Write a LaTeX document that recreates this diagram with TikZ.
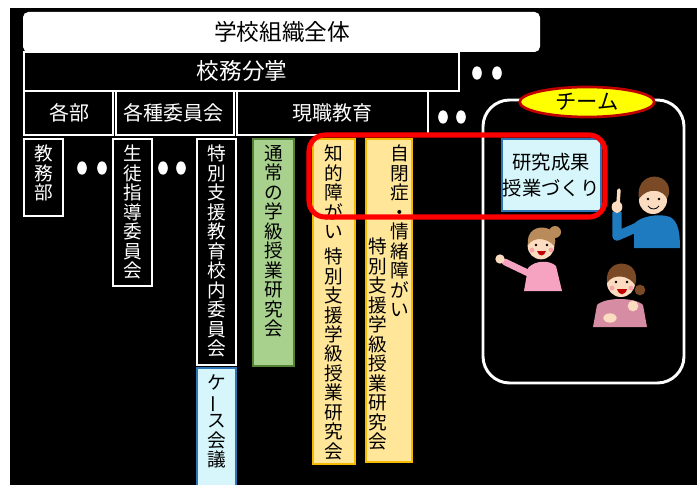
\documentclass[tikz,border=0pt]{standalone}
\usepackage{fontspec}
\newfontfamily\jpfont{Noto Sans CJK JP}
\usetikzlibrary{shapes.geometric}

\definecolor{gakkyugreen}{HTML}{A9D18E}
\definecolor{gakkyuedge}{HTML}{548235}
\definecolor{tokushiorange}{HTML}{FFE699}
\definecolor{tokushiedge}{HTML}{F5BA00}
\definecolor{casecyan}{HTML}{D6F6FB}
\definecolor{caseedge}{HTML}{2E75B6}
\definecolor{teamred}{HTML}{FF0000}
\definecolor{teamyellow}{HTML}{FFFF00}
\definecolor{teamedge}{HTML}{C00000}
\definecolor{skin}{HTML}{FCDCC0}
\definecolor{cheek}{HTML}{F6A6A6}
\definecolor{hairbrown}{HTML}{7A4A26}
\definecolor{hairlight}{HTML}{B98A5A}
\definecolor{shirtblue}{HTML}{1F7BC0}
\definecolor{shirtpink}{HTML}{F5A3C0}
\definecolor{shirtmauve}{HTML}{D68CA2}

\tikzset{
  frame/.style={draw=white, line width=1.6pt},
  yoko/.style={font=\jpfont\fontsize{15}{19}\selectfont, inner sep=0pt},
  bigyoko/.style={font=\jpfont\fontsize{17}{20}\selectfont, inner sep=0pt},
  tate/.style={font=\jpfont\fontsize{14}{14.6}\selectfont, align=center, inner sep=0pt, anchor=north},
  greenbox/.style={fill=gakkyugreen, draw=gakkyuedge, line width=1.6pt},
  orangebox/.style={fill=tokushiorange, draw=tokushiedge, line width=1.8pt},
  cyanbox/.style={fill=casecyan, draw=caseedge, line width=1.8pt},
}

\begin{document}
\begin{tikzpicture}[x=0.75pt, y=-0.75pt]
    \useasboundingbox (0,0) rectangle (697,485);
    \fill[white] (0,0) rectangle (697,485);
    \fill[black] (10,8) rectangle (697,485);

    % whole school and its branches
    \fill[white, rounded corners=4pt] (23,12) rectangle (540,52);
    \node[bigyoko] (zentai) at (282,32) {学校組織全体};

    \draw[frame] (24,52) rectangle (459,91);
    \node[bigyoko, text=white] (bunsho) at (242,71) {校務分掌};
    \fill[white] (477,73) ellipse (3.6pt and 5pt);
    \fill[white] (497,73) ellipse (3.6pt and 5pt);

    \draw[frame] (24,91) rectangle (113,135);
    \node[yoko, text=white] (kakubu) at (69,113) {各部};
    \draw[frame] (116,91) rectangle (234,135);
    \node[yoko, text=white] (iinkai) at (173,113) {各種委員会};
    \draw[frame] (237,91) rectangle (428,135);
    \node[yoko, text=white] (genshoku) at (332,113) {現職教育};
    \fill[white] (443,117) ellipse (3.6pt and 5pt);
    \fill[white] (461,117) ellipse (3.6pt and 5pt);

    % columns under each branch
    \draw[frame] (24,139) rectangle (63,216);
    \node[tate, text=white] (kyomu) at (43.5,145) {教\\務\\部};
    \fill[white] (82,168) ellipse (3.6pt and 5pt);
    \fill[white] (102,168) ellipse (3.6pt and 5pt);

    \draw[frame] (113,139) rectangle (152,286);
    \node[tate, text=white] (seito) at (132.5,145) {生\\徒\\指\\導\\委\\員\\会};
    \fill[white] (163,168) ellipse (3.6pt and 5pt);
    \fill[white] (181,168) ellipse (3.6pt and 5pt);

    \draw[frame] (197,139) rectangle (236,365);
    \node[tate, text=white] (kounai) at (216.5,145) {特\\別\\支\\援\\教\\育\\校\\内\\委\\員\\会};

    \draw[cyanbox] (197,368) rectangle (236,487);
    \node[tate] (case) at (216.5,374) {ケ\\\rotatebox[origin=c]{90}{ー}\\ス\\会\\議};

    \draw[greenbox] (253,139) rectangle (294,366);
    \node[tate] (tsujo) at (273.5,145) {通\\常\\の\\学\\級\\授\\業\\研\\究\\会};

    \draw[orangebox] (313,139) rectangle (355,464);
    \node[tate] (chiteki) at (334,145) {知\\的\\障\\が\\い\\[4pt]特\\別\\支\\援\\学\\級\\授\\業\\研\\究\\会};

    \draw[orangebox] (366,139) rectangle (412,462);
    \node[tate] (jihei) at (400,145) {自\\閉\\症\\・\\情\\緒\\障\\が\\い};
    \node[tate] (jiheikyu) at (378,238) {特\\別\\支\\援\\学\\級\\授\\業\\研\\究\\会};

    % team
    \draw[white, line width=2.2pt, rounded corners=20pt] (483,100) rectangle (684,383);
    \node[ellipse, fill=teamyellow, draw=teamedge, line width=2pt, minimum width=101pt, minimum height=22.5pt, yoko, font=\jpfont\fontsize{16}{18}\selectfont] (team) at (587,102) {チーム};

    \draw[cyanbox] (502,139) rectangle (601,211);
    \node[yoko, align=center, font=\jpfont\fontsize{14.5}{19}\selectfont] (seika) at (551,175) {研究成果\\授業づくり};

    \draw[teamred, line width=3.8pt, rounded corners=12pt] (309,135) rectangle (605,217);

    % man pointing up
    \fill[shirtblue] (634,248) -- (634,224) .. controls (640,216) and (660,213) .. (670,217) .. controls (678,221) and (680,232) .. (680,248) -- cycle;
    \draw[shirtblue, line width=7pt, line join=round] (617,212) -- (617,236) -- (640,226);
    \fill[skin] (617,207) ellipse (4pt and 4.5pt);
    \draw[skin, line width=2.6pt, line cap=round] (618,204) -- (619,190);
    \fill[skin] (653,200) circle (10.5pt);
    \fill[hairbrown] (639,199) .. controls (636,180) and (650,175) .. (658,177) .. controls (670,180) and (671,192) .. (667,199) .. controls (664,190) and (648,186) .. cycle;
    \fill[black] (648,199) circle (1pt);
    \fill[black] (659,199) circle (1pt);
    \draw[black, line width=0.6pt] (648,206) .. controls (651,210) and (656,210) .. (659,206);

    % woman waving
    \fill[shirtpink] (524,291) -- (528,268) .. controls (535,260) and (550,260) .. (556,266) -- (562,291) -- cycle;
    \draw[shirtpink, line width=5pt, line cap=round] (528,273) -- (505,262);
    \fill[skin] (500,259) circle (3.5pt);
    \fill[hairlight] (555,232) circle (4.5pt);
    \fill[skin] (541,246) circle (10pt);
    \fill[hairlight] (528,245) .. controls (526,230) and (538,226) .. (546,228) .. controls (555,230) and (557,240) .. (554,246) .. controls (548,238) and (534,236) .. cycle;
    \fill[cheek] (532,250) circle (1.8pt);
    \fill[cheek] (551,250) circle (1.8pt);
    \fill[black] (536,245) circle (1pt);
    \fill[black] (547,245) circle (1pt);
    \fill[teamedge] (537,251) .. controls (539,257) and (544,257) .. (546,251) -- cycle;

    % woman laughing
    \fill[shirtmauve] (593,327) -- (597,305) .. controls (605,297) and (635,297) .. (643,305) -- (647,327) -- cycle;
    \fill[skin] (633,306) circle (4pt);
    \fill[skin] (610,318) ellipse (5pt and 3.5pt);
    \fill[hairbrown] (640,290) circle (4pt);
    \fill[skin] (621,283) circle (10.5pt);
    \fill[hairbrown] (607,283) .. controls (605,267) and (617,262) .. (625,264) .. controls (635,266) and (638,276) .. (635,285) .. controls (629,275) and (613,273) .. cycle;
    \fill[cheek] (612,288) circle (1.8pt);
    \fill[cheek] (631,288) circle (1.8pt);
    \fill[black] (616,282) circle (1pt);
    \fill[black] (627,282) circle (1pt);
    \fill[teamedge] (617,289) .. controls (619,296) and (625,296) .. (627,289) -- cycle;
\end{tikzpicture}
\end{document}
